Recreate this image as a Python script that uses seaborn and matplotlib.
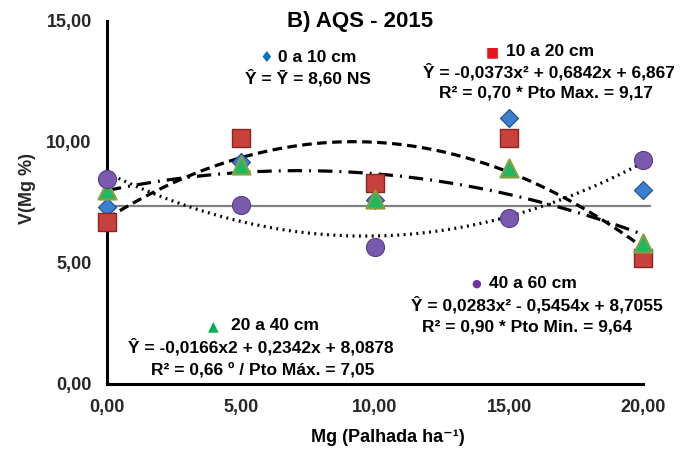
import numpy as np
import pandas as pd
import seaborn as sns
import matplotlib
matplotlib.use("Agg")
import matplotlib.pyplot as plt

sns.set_style("white")
plt.rcParams['font.family'] = ['Liberation Sans', 'DejaVu Sans']
plt.rcParams['font.weight'] = 'bold'

# ---- data ----
mg = [0, 5, 10, 15, 20]
v_0_10 = [7.31, 9.17, 7.60, 10.98, 8.00]
v_10_20 = [6.70, 10.15, 8.31, 10.15, 5.20]
v_20_40 = [8.00, 9.04, 7.63, 8.90, 5.80]
v_40_60 = [8.45, 7.38, 5.66, 6.83, 9.25]
ref_line = 7.34
x_ticks = [0, 5, 10, 15, 20]
y_ticks = [0, 5, 10, 15]

W, H = 690, 450
fig = plt.figure(figsize=(6.9, 4.5), dpi=100)
ax = fig.add_axes([107 / W, 1 - 383.7 / H, 536 / W, 363 / H])

df = pd.DataFrame({"mg": mg, "d1": v_0_10, "d2": v_10_20, "d3": v_20_40, "d4": v_40_60})

ax.hlines(ref_line, 0, 20.3, color="#808080", lw=1.6, zorder=1, clip_on=False)

# trend lines (2nd order fits)
sns.regplot(data=df, x="mg", y="d2", order=2, ci=None, scatter=False, ax=ax,
            line_kws=dict(color="black", lw=2.3, dashes=(3.0, 1.7), zorder=2))
sns.regplot(data=df, x="mg", y="d3", order=2, ci=None, scatter=False, ax=ax,
            line_kws=dict(color="black", lw=2.3, dashes=(4.5, 2.2, 0.6, 2.2), zorder=2))
sns.regplot(data=df, x="mg", y="d4", order=2, ci=None, scatter=False, ax=ax,
            line_kws=dict(color="black", lw=2.3, dashes=(0.6, 1.4), zorder=2))

# markers
mk = dict(ax=ax, clip_on=False, legend=False)
sns.scatterplot(data=df, x="mg", y="d1", marker="D", s=85, color="#3A7FD0",
                edgecolor="#1F4E8C", linewidth=0.8, zorder=3, **mk)
sns.scatterplot(data=df, x="mg", y="d2", marker="s", s=165, color="#C8413C",
                edgecolor="#8B2420", linewidth=1.0, zorder=4, **mk)
sns.scatterplot(data=df, x="mg", y="d3", marker="^", s=170, color="#1DB860",
                edgecolor="#8AA040", linewidth=1.5, zorder=5, **mk)
sns.scatterplot(data=df, x="mg", y="d4", marker="o", s=170, color="#7A5AAE",
                edgecolor="#5A3D8A", linewidth=0.8, zorder=6, **mk)

ax.set_xlim(0, 20)
ax.set_ylim(0, 15)
ax.set_xticks(x_ticks)
ax.set_yticks(y_ticks)
ax.set_xticklabels([f"{t:.2f}".replace(".", ",") for t in x_ticks])
ax.set_yticklabels([f"{t:.2f}".replace(".", ",") for t in y_ticks])
for s in ["top", "right"]:
    ax.spines[s].set_visible(False)
for s in ["left", "bottom"]:
    ax.spines[s].set_color("black")
    ax.spines[s].set_linewidth(2.2)
ax.tick_params(axis="both", direction="inout", length=8, width=2.2, color="black",
               labelsize=13)
ax.tick_params(axis="y", pad=7)
ax.tick_params(axis="x", pad=7)
for lab in ax.get_xticklabels() + ax.get_yticklabels():
    lab.set_fontweight("bold")
ax.set_xlabel("")
ax.set_ylabel("")

def ftext(x, y, s, size=12.5, color="black", family=None, ha="center"):
    kw = dict(ha=ha, va="center", fontsize=size, fontweight="bold", color=color)
    if family:
        kw["family"] = family
    fig.text(x / W, 1 - y / H, s, **kw)

ftext(360, 22, "B) AQS - 2015", size=16)
ftext(388, 438, "Mg (Palhada ha⁻¹)", size=13)
fig.text(27 / W, 1 - 188 / H, "V(Mg %)", rotation=90, ha="center", va="center",
         fontsize=13, fontweight="bold")

sym = ['DejaVu Sans']
# 0 a 10 cm
ftext(266, 57, "♦", size=11, color="#0070C0", family=sym)
ftext(317, 57, "0 a 10 cm")
ftext(308, 78, "Ŷ = Ȳ = 8,60 NS")
# 10 a 20 cm
ftext(492, 52, "■", size=10, color="#E8141B", family=sym)
ftext(550, 52, "10 a 20 cm")
ftext(549, 72, "Ŷ = -0,0373x² + 0,6842x + 6,867")
ftext(546, 93, "R² = 0,70 * Pto Max. = 9,17")
# 40 a 60 cm
ftext(476, 284, "●", size=8, color="#7030A0", family=sym)
ftext(533, 284, "40 a 60 cm")
ftext(537, 305, "Ŷ = 0,0283x² - 0,5454x + 8,7055")
ftext(527, 327, "R² = 0,90 * Pto Min. = 9,64")
# 20 a 40 cm
ftext(213, 326, "▲", size=10, color="#00B050", family=sym)
ftext(275, 326, "20 a 40 cm")
ftext(261, 347, "Ŷ = -0,0166x2 + 0,2342x + 8,0878")
ftext(263, 370, "R² = 0,66 º / Pto Máx. = 7,05")

fig.savefig("out.png", dpi=100)
